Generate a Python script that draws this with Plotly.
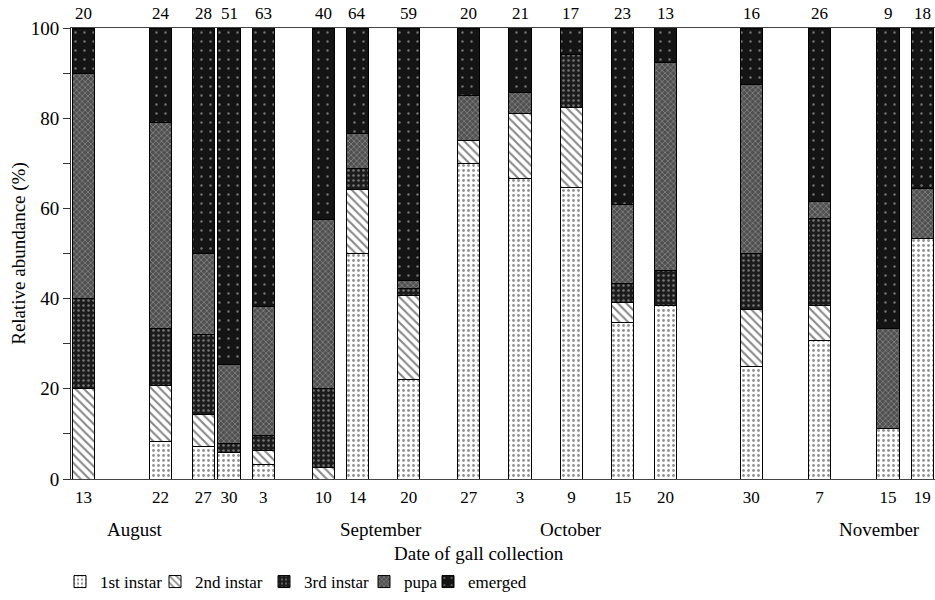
import datetime as dt
import plotly.graph_objects as go

# ---------------- data ----------------
dates = ["2003-08-13", "2003-08-22", "2003-08-27", "2003-08-30", "2003-09-03",
         "2003-09-10", "2003-09-14", "2003-09-20", "2003-09-27", "2003-10-03",
         "2003-10-09", "2003-10-15", "2003-10-20", "2003-10-30", "2003-11-07",
         "2003-11-15", "2003-11-19"]
day_labels = ["13", "22", "27", "30", "3", "10", "14", "20", "27", "3",
              "9", "15", "20", "30", "7", "15", "19"]
sample_n = [20, 24, 28, 51, 63, 40, 64, 59, 20, 21, 17, 23, 13, 16, 26, 9, 18]

first_instar = [0, 8.3, 7.1, 5.9, 3.2, 0, 50.0, 22.0, 70.0, 66.7, 64.7, 34.8, 38.5, 25.0, 30.8, 11.1, 53.3]
second_instar = [20.0, 12.5, 7.1, 0, 3.2, 2.5, 14.1, 18.6, 5.0, 14.3, 17.6, 4.3, 0, 12.5, 7.7, 0, 0]
third_instar = [20.0, 12.5, 17.9, 2.0, 3.2, 17.5, 4.7, 1.7, 0, 0, 11.8, 4.3, 7.7, 12.5, 19.2, 0, 0]
pupa = [50.0, 45.8, 17.9, 17.6, 28.6, 37.5, 7.8, 1.7, 10.0, 4.8, 0, 17.4, 46.2, 37.5, 3.8, 22.2, 11.1]
emerged = [10.0, 20.8, 50.0, 74.5, 61.9, 42.5, 23.4, 55.9, 15.0, 14.3, 5.9, 39.1, 7.7, 12.5, 38.5, 66.7, 35.6]

series_names = ["1st instar", "2nd instar", "3rd instar", "pupa", "emerged"]
month_names = ["August", "September", "October", "November"]
month_label_dates = ["2003-08-19", "2003-09-16T18:00", "2003-10-09", "2003-11-14"]

# ---------------- styles ----------------
styles = [
    dict(color="white", pattern=dict(shape=".", fgcolor="#222222", size=5, solidity=0.25, fillmode="overlay")),
    dict(color="white", pattern=dict(shape="\\", fgcolor="#111111", size=6, solidity=0.35, fillmode="overlay")),
    dict(color="#1c1c1c", pattern=dict(shape=".", fgcolor="#d0d0d0", size=5, solidity=0.2, fillmode="overlay")),
    dict(color="#4f4f4f", pattern=dict(shape="x", fgcolor="#b0b0b0", size=4, solidity=0.4, fillmode="overlay")),
    dict(color="#141414", pattern=dict(shape=".", fgcolor="#d0d0d0", size=9, solidity=0.06, fillmode="overlay")),
]
legend_ids = ["legend", "legend2", "legend3", "legend4", "legend5"]
legend_x_px = [60, 155, 264, 364, 428]   # left of each legend entry box (window px)

FONT = "Liberation Serif"
DAY_MS = 86400000
bar_width = 2.6 * DAY_MS
L, R, T, B, W, H = 71, 0, 28, 120, 935, 600
PW = W - L - R

fig = go.Figure()
for name, vals, st, lid in zip(series_names,
                               [first_instar, second_instar, third_instar, pupa, emerged],
                               styles, legend_ids):
    fig.add_trace(go.Bar(
        name=name, x=dates, y=[v if v else None for v in vals],
        width=[bar_width] * len(dates), legend=lid,
        marker=dict(color=st["color"], pattern=st["pattern"],
                    line=dict(color="black", width=1)),
    ))

# sample sizes on top
for d, n in zip(dates, sample_n):
    fig.add_annotation(x=d, y=1, xref="x", yref="paper", yanchor="bottom",
                       yshift=3, text=str(n), showarrow=False,
                       font=dict(family=FONT, size=17, color="black"))

# month labels
for d, m in zip(month_label_dates, month_names):
    fig.add_annotation(x=d, y=-0.111, xref="x", yref="paper", yanchor="middle",
                       text=m, showarrow=False,
                       font=dict(family=FONT, size=19, color="black"))

# axis titles
fig.add_annotation(x=0.472, y=-0.166, xref="paper", yref="paper", yanchor="middle",
                   text="Date of gall collection", showarrow=False,
                   font=dict(family=FONT, size=19, color="black"))
fig.add_annotation(x=-0.061, y=0.5, xref="paper", yref="paper", xanchor="center",
                   yanchor="middle", textangle=-90,
                   text="Relative abundance (%)", showarrow=False,
                   font=dict(family=FONT, size=19, color="black"))

t0 = dt.datetime(2003, 8, 13) - dt.timedelta(days=1.46)
t1 = dt.datetime(2003, 11, 19) + dt.timedelta(days=1.48)

legends = {}
for lid, xp in zip(legend_ids, legend_x_px):
    legends[lid] = dict(orientation="h", x=(xp - L) / PW, y=-0.228,
                        xanchor="left", yanchor="middle",
                        font=dict(family=FONT, size=17), itemwidth=30,
                        bgcolor="rgba(0,0,0,0)")

fig.update_layout(
    width=W, height=H,
    margin=dict(l=L, r=R, t=T, b=B),
    barmode="stack",
    plot_bgcolor="white", paper_bgcolor="white",
    font=dict(family=FONT, size=17, color="black"),
    showlegend=True,
    xaxis=dict(type="date", range=[t0.isoformat(), t1.isoformat()],
               tickmode="array", tickvals=dates, ticktext=day_labels,
               ticks="", showgrid=False, showline=True, linecolor="#444444",
               linewidth=1, mirror=True, tickfont=dict(family=FONT, size=17),
               ticklabelstandoff=3, zeroline=False),
    yaxis=dict(range=[0, 100], tickmode="array", tickvals=[0, 20, 40, 60, 80, 100],
               ticks="outside", ticklen=7, tickcolor="#333333",
               minor=dict(ticks="outside", dtick=10, ticklen=7, tickcolor="#333333"),
               showgrid=False, showline=True, linecolor="#333333", linewidth=1,
               zeroline=False, tickfont=dict(family=FONT, size=19)),
    **legends,
)

fig.write_html(
    "out.html",
    config={"displayModeBar": False},
    post_script="document.body.style.margin='0';"
                "document.documentElement.style.overflow='hidden';",
)
